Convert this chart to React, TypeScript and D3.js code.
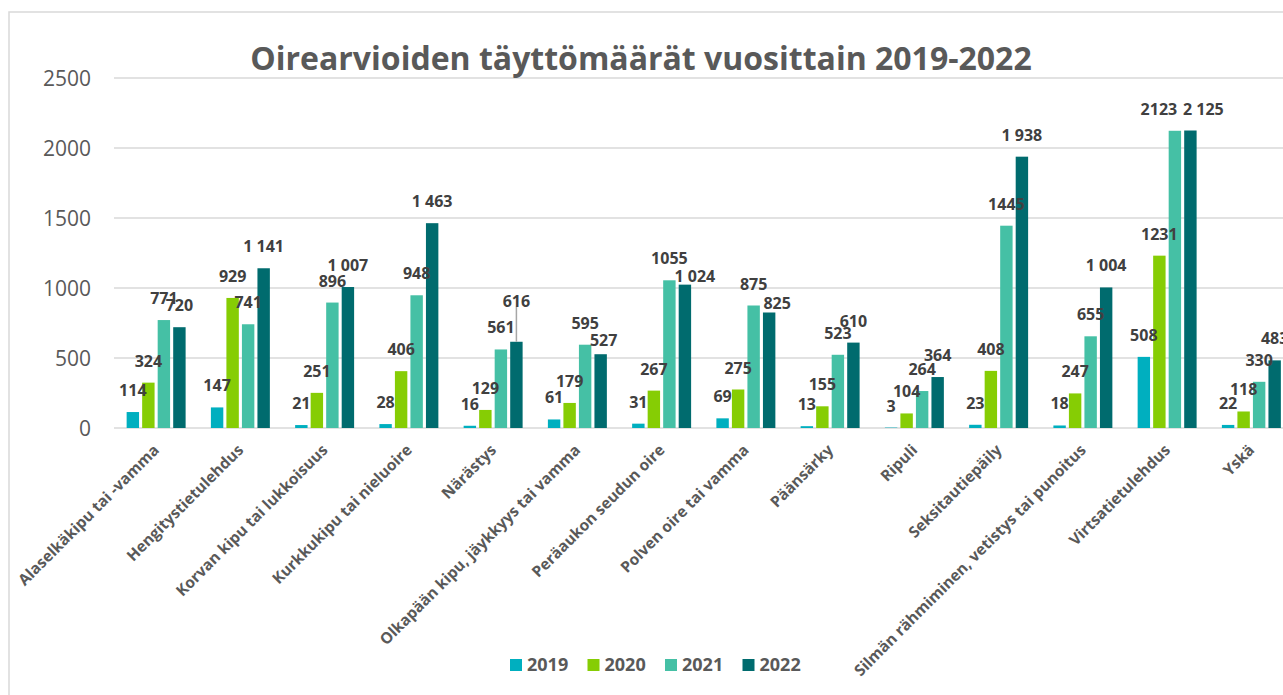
import { useEffect, useRef } from "react";
import * as d3 from "d3";

const WIDTH = 1283;
const HEIGHT = 695;

const categories = [
  "Alaselkäkipu tai -vamma",
  "Hengitystietulehdus",
  "Korvan kipu tai lukkoisuus",
  "Kurkkukipu tai nieluoire",
  "Närästys",
  "Olkapään kipu, jäykkyys tai vamma",
  "Peräaukon seudun oire",
  "Polven oire tai vamma",
  "Päänsärky",
  "Ripuli",
  "Seksitautiepäily",
  "Silmän rähmiminen, vetistys tai punoitus",
  "Virtsatietulehdus",
  "Yskä",
];
const years = ["2019", "2020", "2021", "2022"];
const values2019 = [114, 147, 21, 28, 16, 61, 31, 69, 13, 3, 23, 18, 508, 22];
const values2020 = [324, 929, 251, 406, 129, 179, 267, 275, 155, 104, 408, 247, 1231, 118];
const values2021 = [771, 741, 896, 948, 561, 595, 1055, 875, 523, 264, 1445, 655, 2123, 330];
const values2022 = [720, 1141, 1007, 1463, 616, 527, 1024, 825, 610, 364, 1938, 1004, 2125, 483];
const yTicks = [0, 500, 1000, 1500, 2000, 2500];

const seriesValues = [values2019, values2020, values2021, values2022];
const colors = ["#00AFBF", "#86CD04", "#45C0A5", "#006B6E"];

// manual label moves, as in the original chart
const labelNudges: Record<string, { dx?: number; dy?: number; leader?: boolean }> = {
  "Närästys|2022": { dy: -19, leader: true },
  "Olkapään kipu, jäykkyys tai vamma|2022": { dx: 3, dy: 8 },
  "Peräaukon seudun oire|2022": { dx: 10, dy: 13 },
  "Polven oire tai vamma|2022": { dx: 8, dy: 12 },
  "Virtsatietulehdus|2021": { dx: -16 },
  "Virtsatietulehdus|2022": { dx: 13 },
};

const spaced = d3.formatLocale({
  decimal: ",",
  thousands: " ",
  grouping: [3],
  currency: ["", ""],
}).format(",d");

const MARGIN = { left: 114, top: 78, bottom: 428 };

export default function App() {
  const svgRef = useRef<SVGSVGElement>(null);

  useEffect(() => {
    if (!svgRef.current) return;
    const svg = d3.select(svgRef.current);
    svg.selectAll("*").remove();

    const x0 = d3
      .scaleBand()
      .domain(categories)
      .range([MARGIN.left, MARGIN.left + categories.length * 84.25])
      .paddingInner(0.3)
      .paddingOuter(0.15);

    const x1 = d3
      .scaleBand()
      .domain(years)
      .range([0, x0.bandwidth()])
      .paddingInner(0.2);

    const y = d3.scaleLinear().domain([0, 2500]).range([MARGIN.bottom, MARGIN.top]);

    // frame
    svg
      .append("rect")
      .attr("x", 9)
      .attr("y", 12)
      .attr("width", WIDTH + 20)
      .attr("height", HEIGHT + 20)
      .attr("fill", "none")
      .attr("stroke", "#d9d9d9")
      .attr("stroke-width", 1.5);

    // grid
    svg
      .append("g")
      .selectAll("line")
      .data(yTicks)
      .join("line")
      .attr("x1", MARGIN.left)
      .attr("x2", WIDTH)
      .attr("y1", (d) => y(d))
      .attr("y2", (d) => y(d))
      .attr("stroke", "#d9d9d9")
      .attr("stroke-width", 1.5);

    svg
      .append("g")
      .selectAll("text")
      .data(yTicks)
      .join("text")
      .attr("x", 91)
      .attr("y", (d) => y(d))
      .attr("dy", "0.36em")
      .attr("text-anchor", "end")
      .attr("font-family", "'Open Sans', sans-serif")
      .attr("font-size", 21)
      .attr("fill", "#595959")
      .text((d) => d);

    // bars
    const groups = svg
      .append("g")
      .selectAll("g")
      .data(categories)
      .join("g")
      .attr("transform", (c) => `translate(${x0(c)},0)`);

    groups
      .selectAll("rect")
      .data((_, i) => years.map((yr, s) => ({ yr, s, v: seriesValues[s][i] })))
      .join("rect")
      .attr("x", (d) => x1(d.yr) ?? 0)
      .attr("width", x1.bandwidth())
      .attr("y", (d) => y(d.v))
      .attr("height", (d) => y(0) - y(d.v))
      .attr("fill", (d) => colors[d.s]);

    // data labels
    const labels = svg.append("g");
    categories.forEach((c, i) => {
      years.forEach((yr, s) => {
        const v = seriesValues[s][i];
        const nudge = labelNudges[`${c}|${yr}`] ?? {};
        const cx = (x0(c) ?? 0) + (x1(yr) ?? 0) + x1.bandwidth() / 2;
        const by = y(v) - 16 + (nudge.dy ?? 0);
        if (nudge.leader) {
          labels
            .append("line")
            .attr("x1", cx)
            .attr("x2", cx)
            .attr("y1", by)
            .attr("y2", y(v))
            .attr("stroke", "#a6a6a6")
            .attr("stroke-width", 1.5);
        }
        labels
          .append("text")
          .attr("x", cx + (nudge.dx ?? 0))
          .attr("y", by)
          .attr("text-anchor", "middle")
          .attr("font-family", "'Open Sans', sans-serif")
          .attr("font-weight", 700)
          .attr("font-size", 16)
          .attr("fill", "#404040")
          .text(yr === "2022" ? spaced(v) : String(v));
      });
    });

    // category labels
    svg
      .append("g")
      .selectAll("text")
      .data(categories)
      .join("text")
      .attr(
        "transform",
        (c) => `translate(${(x0(c) ?? 0) + x0.bandwidth() / 2 + 4},451) rotate(-45)`
      )
      .attr("text-anchor", "end")
      .attr("font-family", "'Open Sans', sans-serif")
      .attr("font-weight", 700)
      .attr("font-size", 15.5)
      .attr("fill", "#595959")
      .text((c) => c);

    // title
    svg
      .append("text")
      .attr("x", 641)
      .attr("y", 70)
      .attr("text-anchor", "middle")
      .attr("font-family", "'Open Sans', sans-serif")
      .attr("font-weight", 700)
      .attr("font-size", 32)
      .attr("fill", "#595959")
      .text("Oirearvioiden täyttömäärät vuosittain 2019-2022");

    // legend
    const lx = d3.scaleBand().domain(years).range([510, 820]);
    const legend = svg
      .append("g")
      .selectAll("g")
      .data(years)
      .join("g")
      .attr("transform", (yr) => `translate(${lx(yr)},659)`);
    legend
      .append("rect")
      .attr("width", 12)
      .attr("height", 12)
      .attr("fill", (_, s) => colors[s]);
    legend
      .append("text")
      .attr("x", 17)
      .attr("y", 6)
      .attr("dy", "0.36em")
      .attr("font-family", "'Open Sans', sans-serif")
      .attr("font-weight", 700)
      .attr("font-size", 18)
      .attr("fill", "#595959")
      .text((yr) => yr);
  }, []);

  return (
    <svg
      ref={svgRef}
      width={WIDTH}
      height={HEIGHT}
      style={{ position: "absolute", left: 0, top: 0, background: "#fff" }}
    />
  );
}
